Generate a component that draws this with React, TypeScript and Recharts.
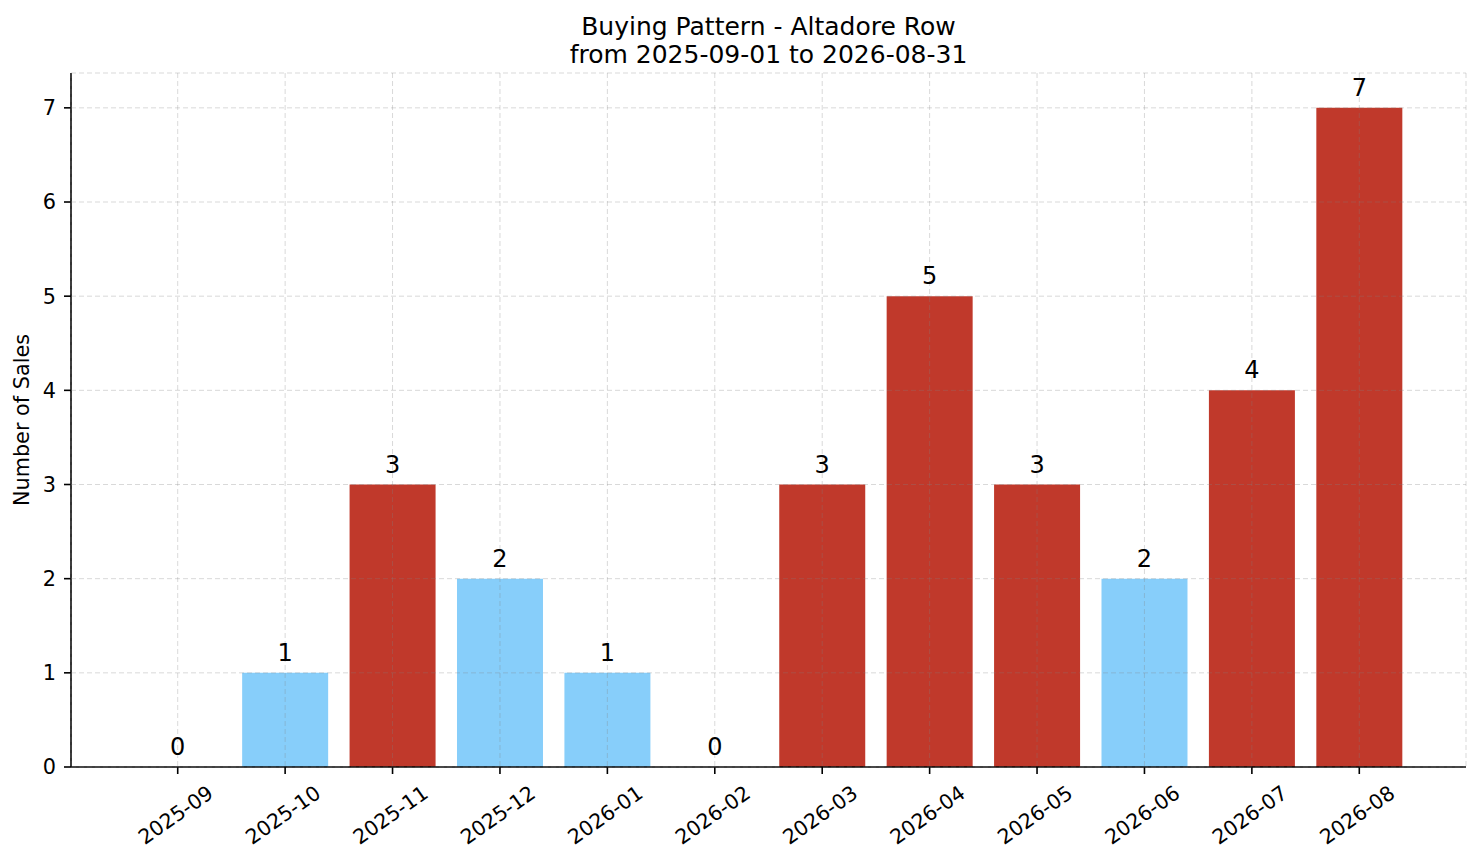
import React from 'react'
import { ComposedChart, Bar, Line, XAxis, YAxis, CartesianGrid, Cell, LabelList } from 'recharts'

const months = [
  '2025-09', '2025-10', '2025-11', '2025-12', '2026-01', '2026-02',
  '2026-03', '2026-04', '2026-05', '2026-06', '2026-07', '2026-08',
]
const sales = [0, 1, 3, 2, 1, 0, 3, 5, 3, 2, 4, 7]
const yTicks = [0, 1, 2, 3, 4, 5, 6, 7]
const titleLines = ['Buying Pattern - Altadore Row', 'from 2025-09-01 to 2026-08-31']
const yLabel = 'Number of Sales'

// bars at or above this get the strong colour
const HIGH = 3
const RED = '#c0392b'
const BLUE = '#87cefa'
const FONT = '"DejaVu Sans", sans-serif'

const data = months.map((m, i) => ({ month: m, sales: sales[i] }))

const XTick = (props: any) => {
  const { x, y, payload } = props
  const cx = x - 2
  const cy = y + 39
  return (
    <text
      x={cx}
      y={cy}
      textAnchor="middle"
      dominantBaseline="central"
      transform={`rotate(-35, ${cx}, ${cy})`}
      fontSize={20.5}
      fill="#000"
    >
      {payload.value}
    </text>
  )
}

const YTitle = (props: any) => {
  const vb = props.viewBox || {}
  const cy = (vb.y ?? 73) + (vb.height ?? 694) / 2
  return (
    <text
      x={22}
      y={cy}
      textAnchor="middle"
      dominantBaseline="central"
      transform={`rotate(-90, 22, ${cy})`}
      fontSize={20.8}
      fill="#000"
    >
      {yLabel}
    </text>
  )
}

export default function App() {
  return (
    <div style={{ position: 'absolute', left: 0, top: 0, width: 1481, height: 863, background: '#fff', fontFamily: FONT }}>
      <div
        style={{
          position: 'absolute', left: 71, top: 13, width: 1395,
          textAlign: 'center', fontSize: 25, lineHeight: '28px', color: '#000',
        }}
      >
        {titleLines.map(t => <div key={t}>{t}</div>)}
      </div>
      <ComposedChart
        width={1481}
        height={863}
        data={data}
        margin={{ top: 73, right: 15, left: 0, bottom: 0 }}
        barCategoryGap="10%"
      >
        <XAxis
          dataKey="month"
          height={96}
          padding={{ left: 53, right: 53 }}
          axisLine={{ stroke: '#000', strokeWidth: 1.6 }}
          tickLine={{ stroke: '#000', strokeWidth: 1.6 }}
          tickSize={7}
          tick={<XTick />}
          interval={0}
        />
        <YAxis
          width={71}
          type="number"
          domain={[0, 7.37]}
          ticks={yTicks}
          allowDataOverflow
          axisLine={{ stroke: '#000', strokeWidth: 1.6 }}
          tickLine={{ stroke: '#000', strokeWidth: 1.6 }}
          tickSize={7}
          tickMargin={8}
          tick={{ fontSize: 20.8, fill: '#000' }}
          label={<YTitle />}
        />
        <Bar dataKey="sales" isAnimationActive={false}>
          {data.map(d => (
            <Cell key={d.month} fill={d.sales >= HIGH ? RED : BLUE} />
          ))}
        </Bar>
        {/* invisible line only carries the value labels, so zero bars get one too */}
        <Line
          dataKey="sales"
          stroke="none"
          dot={false}
          activeDot={false}
          isAnimationActive={false}
          legendType="none"
        >
          <LabelList dataKey="sales" position="top" offset={12} fontSize={24} fill="#000" />
        </Line>
        <CartesianGrid
          stroke="#808080"
          strokeOpacity={0.3}
          strokeDasharray="5 3"
          zIndex={1000}
        />
      </ComposedChart>
    </div>
  )
}
